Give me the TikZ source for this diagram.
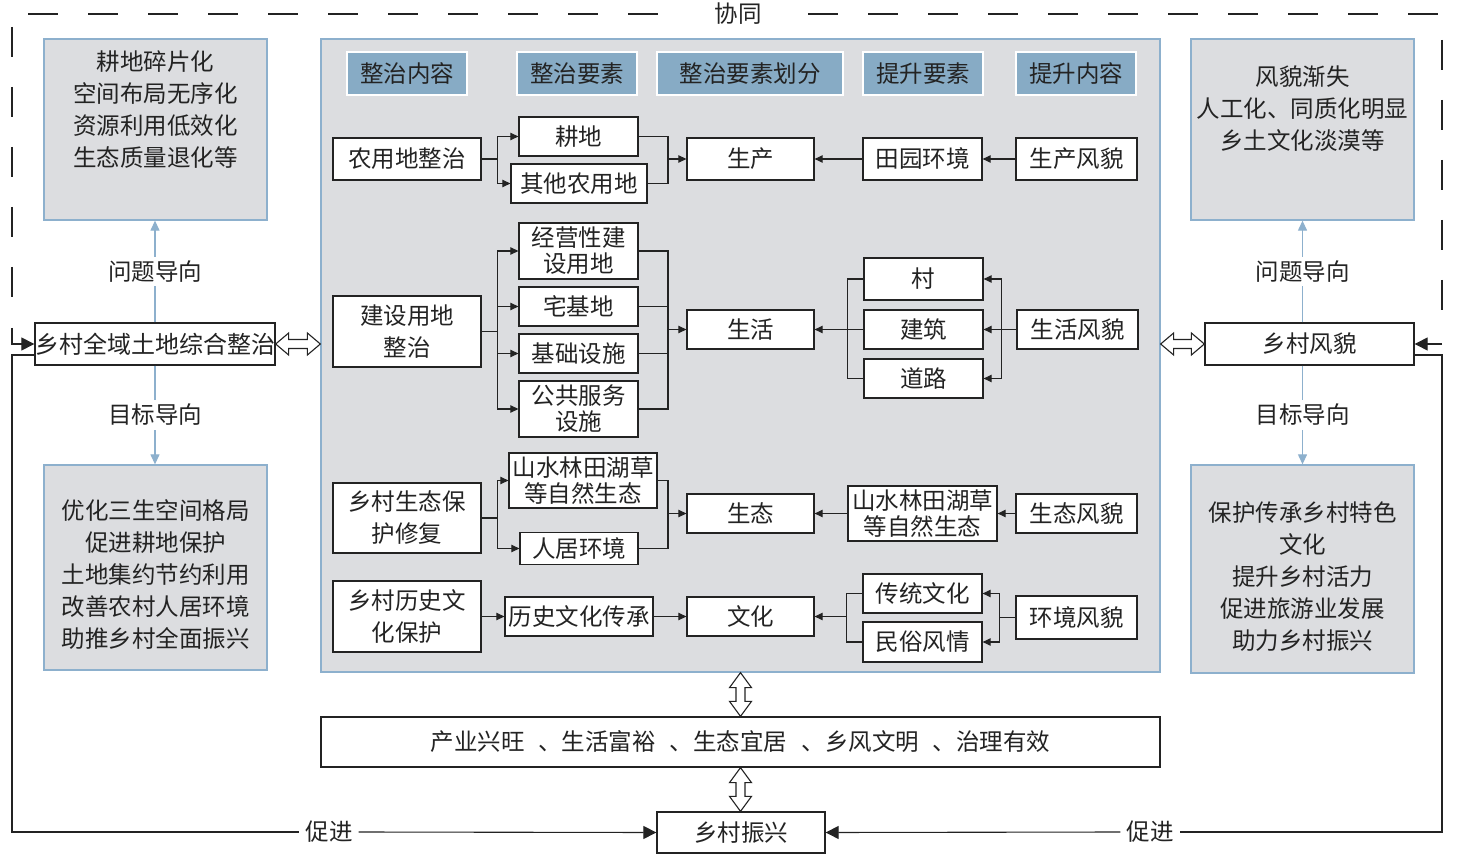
\documentclass[tikz,border=0pt]{standalone}
\usepackage{fontspec}
\setmainfont{Noto Sans CJK SC}
\usetikzlibrary{arrows.meta,calc}
\definecolor{panelgray}{RGB}{220,221,224}
\definecolor{panelblue}{RGB}{141,176,205}
\definecolor{headblue}{RGB}{135,171,197}
\definecolor{ink}{RGB}{35,35,35}
\tikzset{
 txt/.style={font=\fontsize{23.5}{32}\selectfont, text=ink, inner sep=0pt},
 box/.style={draw=ink, fill=white, line width=1.3pt, inner sep=0pt, align=center, font=\fontsize{23.5}{32}\selectfont, text=ink},
 tightlines/.style={font=\fontsize{23.5}{26}\selectfont},
 graybox/.style={draw=panelblue, fill=panelgray, line width=1.3pt, inner sep=0pt},
 headbox/.style={draw=white, fill=headblue, line width=1.6pt, inner sep=0pt, minimum width=120pt, minimum height=43pt, font=\fontsize{23.5}{28}\selectfont, text=ink},
 conn/.style={draw=ink, line width=1.1pt},
 arr/.style={conn, -{Triangle[length=8pt,width=7.5pt]}},
 bigarr/.style={conn, -{Triangle[length=13pt,width=13pt]}},
 bluearr/.style={draw=panelblue, line width=1.2pt, -{Triangle[length=10pt,width=9pt]}},
 dashthirty/.style={draw=ink, line width=1.1pt, dash pattern=on 30pt off 30pt},
 dblarrow/.style={draw=ink, fill=white, line width=1.1pt, line join=miter},
 lbl/.style={txt, fill=white, inner xsep=0pt, inner ysep=4pt},
}
\newcommand\hdblarrow[2]{\draw[dblarrow] let \p1=(#1), \p2=(#2) in (\x1,\y1) -- (\x1+13pt,\y1+11pt) -- (\x1+13pt,\y1+4.5pt) -- (\x2-13pt,\y1+4.5pt) -- (\x2-13pt,\y1+11pt) -- (\x2,\y1) -- (\x2-13pt,\y1-11pt) -- (\x2-13pt,\y1-4.5pt) -- (\x1+13pt,\y1-4.5pt) -- (\x1+13pt,\y1-11pt) -- cycle;}
\newcommand\vdblarrow[2]{\draw[dblarrow] let \p1=(#1), \p2=(#2) in (\x1,\y1) -- (\x1+11pt,\y1-15pt) -- (\x1+4.5pt,\y1-15pt) -- (\x1+4.5pt,\y2+15pt) -- (\x1+11pt,\y2+15pt) -- (\x1,\y2) -- (\x1-11pt,\y2+15pt) -- (\x1-4.5pt,\y2+15pt) -- (\x1-4.5pt,\y1-15pt) -- (\x1-11pt,\y1-15pt) -- cycle;}
\begin{document}
\begin{tikzpicture}[x=1pt,y=-1pt]
\useasboundingbox[fill=white] (0,0) rectangle (1461,858);

% ---------- left column ----------
\node[graybox, minimum width=223pt, minimum height=181pt] (ptop) at (155.5,129.5) {};
\node[txt, align=center] (ptopt) at (155.5,110) {耕地碎片化\\空间布局无序化\\资源利用低效化\\生态质量退化等};
\node[graybox, minimum width=223pt, minimum height=205pt] (pgoal) at (155.5,567.5) {};
\node[txt, align=center] (pgoalt) at (155.5,575) {优化三生空间格局\\促进耕地保护\\土地集约节约利用\\改善农村人居环境\\助推乡村全面振兴};
\node[box, minimum width=236pt, minimum height=42pt, font=\fontsize{24}{30}\selectfont] (land) at (155,344) {乡村全域土地综合整治};
\draw[bluearr] (land.north) -- node[lbl] {问题导向} (land.north |- ptop.south);
\draw[bluearr] (land.south) -- node[lbl] {目标导向} (land.south |- pgoal.north);

% ---------- right column ----------
\node[graybox, minimum width=223pt, minimum height=181pt] (rtop) at (1302.5,129.5) {};
\node[txt, align=center] (rtopt) at (1302.5,109) {风貌渐失\\人工化、同质化明显\\乡土文化淡漠等};
\node[graybox, minimum width=223pt, minimum height=208pt] (rgoal) at (1302.5,569) {};
\node[txt, align=center] (rgoalt) at (1302.5,577) {保护传承乡村特色\\文化\\提升乡村活力\\促进旅游业发展\\助力乡村振兴};
\node[box, minimum width=209pt, minimum height=42pt] (rfm) at (1309.5,344) {乡村风貌};
\draw[bluearr] (rfm.north -| rtop.south) -- node[lbl] {问题导向} (rtop.south);
\draw[bluearr] (rfm.south -| rgoal.north) -- node[lbl] {目标导向} (rgoal.north);

% ---------- central panel ----------
\node[graybox, minimum width=839pt, minimum height=633pt] (panel) at (740.5,355.5) {};
\node[headbox] (h1) at (407,73.5) {整治内容};
\node[headbox] (h2) at (577,73.5) {整治要素};
\node[headbox, minimum width=186pt] (h3) at (750,73.5) {整治要素划分};
\node[headbox] (h4) at (923,73.5) {提升要素};
\node[headbox] (h5) at (1076,73.5) {提升内容};

% row 1
\node[box, minimum width=148pt, minimum height=42pt] (nyd) at (407,159) {农用地整治};
\node[box, minimum width=119pt, minimum height=39pt] (gd) at (578.5,136.5) {耕地};
\node[box, minimum width=136pt, minimum height=39pt] (qt) at (579,183.5) {其他农用地};
\node[box, minimum width=127pt, minimum height=42pt] (sc) at (750.5,159) {生产};
\node[box, minimum width=119pt, minimum height=42pt] (tyhj) at (922.5,159) {田园环境};
\node[box, minimum width=121pt, minimum height=42pt] (scfm) at (1076.5,159) {生产风貌};
\draw[arr] (nyd.east) -- ++(16,0) |- (gd.west);
\draw[arr] (nyd.east) -- ++(16,0) |- (qt.west);
\coordinate (m1) at (668,159);
\draw[conn] (gd.east) -| (m1);
\draw[conn] (qt.east) -| (m1);
\draw[arr] (m1) -- (sc.west);
\draw[arr] (tyhj.west) -- (sc.east);
\draw[arr] (scfm.west) -- (tyhj.east);

% row 2
\node[box, minimum width=148pt, minimum height=71pt] (jsyd) at (407,331.5) {建设用地\\整治};
\node[box, tightlines, minimum width=119pt, minimum height=56pt] (jy) at (578.5,251) {经营性建\\设用地};
\node[box, minimum width=119pt, minimum height=39pt] (zjd) at (578.5,306.5) {宅基地};
\node[box, minimum width=119pt, minimum height=39pt] (jcss) at (578.5,353.5) {基础设施};
\node[box, tightlines, minimum width=119pt, minimum height=56pt] (ggfw) at (578.5,409) {公共服务\\设施};
\node[box, minimum width=127pt, minimum height=39pt] (sh) at (750.5,329.5) {生活};
\node[box, minimum width=119pt, minimum height=42pt] (cun) at (923.5,279) {村};
\node[box, minimum width=119pt, minimum height=39pt] (jz) at (923.5,329.5) {建筑};
\node[box, minimum width=119pt, minimum height=39pt] (dl) at (923.5,378.5) {道路};
\node[box, minimum width=121pt, minimum height=39pt] (shfm) at (1077.5,329.5) {生活风貌};
\draw[arr] (jsyd.east) -- ++(16,0) |- (jy.west);
\draw[arr] (jsyd.east) -- ++(16,0) |- (zjd.west);
\draw[arr] (jsyd.east) -- ++(16,0) |- (jcss.west);
\draw[arr] (jsyd.east) -- ++(16,0) |- (ggfw.west);
\coordinate (m2) at (668,329.5);
\draw[conn] (jy.east) -| (m2);
\draw[conn] (zjd.east) -| (m2);
\draw[conn] (jcss.east) -| (m2);
\draw[conn] (ggfw.east) -| (m2);
\draw[arr] (m2) -- (sh.west);
\draw[conn] (cun.west) -- ++(-16,0) |- (dl.west);
\draw[arr] (jz.west) -- (sh.east);
\draw[conn] (shfm.west) -- ++(-15,0) coordinate (b3);
\draw[arr] (b3) |- (cun.east);
\draw[arr] (b3) |- (dl.east);
\draw[arr] (shfm.west) -- (jz.east);

% row 3
\node[box, minimum width=148pt, minimum height=70pt] (stbh) at (407,518) {乡村生态保\\护修复};
\node[box, tightlines, minimum width=148pt, minimum height=55pt] (ssl) at (583,480.5) {山水林田湖草\\等自然生态};
\node[box, minimum width=118pt, minimum height=32pt] (rjhj) at (579,548.5) {人居环境};
\node[box, minimum width=127pt, minimum height=39pt] (st) at (750.5,513.5) {生态};
\node[box, tightlines, minimum width=149pt, minimum height=55pt] (ssr) at (922.5,513.5) {山水林田湖草\\等自然生态};
\node[box, minimum width=121pt, minimum height=39pt] (stfm) at (1076.5,513.5) {生态风貌};
\draw[arr] (stbh.east) -- ++(16,0) |- (ssl.west);
\draw[arr] (stbh.east) -- ++(16,0) |- (rjhj.west);
\coordinate (m4) at (668,513.5);
\draw[conn] (ssl.east) -| (m4);
\draw[conn] (rjhj.east) -| (m4);
\draw[arr] (m4) -- (st.west);
\draw[arr] (ssr.west) -- (st.east);
\draw[arr] (stfm.west) -- (ssr.east);

% row 4
\node[box, minimum width=148pt, minimum height=71pt] (lsbh) at (407,616.5) {乡村历史文\\化保护};
\node[box, minimum width=148pt, minimum height=39pt] (lscc) at (579,616.5) {历史文化传承};
\node[box, minimum width=127pt, minimum height=39pt] (wh) at (750.5,616.5) {文化};
\node[box, minimum width=119pt, minimum height=39pt] (ctwh) at (922.5,593.5) {传统文化};
\node[box, minimum width=119pt, minimum height=40pt] (msfq) at (922.5,642) {民俗风情};
\node[box, minimum width=121pt, minimum height=43pt] (hjfm) at (1076.5,617.5) {环境风貌};
\draw[arr] (lsbh.east) -- (lscc.west);
\draw[arr] (lscc.east) -- (wh.west);
\draw[conn] (ctwh.west) -- ++(-16,0) |- (msfq.west);
\coordinate (m5) at (847,616.5);
\draw[arr] (m5) -- (wh.east);
\draw[conn] (hjfm.west) -- ++(-16,0) coordinate (b5);
\draw[arr] (b5) |- (ctwh.east);
\draw[arr] (b5) |- (msfq.east);

% ---------- bottom ----------
\node[box, minimum width=839pt, minimum height=50pt] (goals) at (740.5,742) {产业兴旺\hspace{14pt}、生活富裕\hspace{14pt}、生态宜居\hspace{14pt}、乡风文明\hspace{14pt}、治理有效};
\node[box, minimum width=168pt, minimum height=41pt] (rv) at (741,832.5) {乡村振兴};
\node[txt, inner xsep=6pt] (cjL) at (329,832) {促进};
\node[txt, inner xsep=6pt] (cjR) at (1150,832) {促进};

\hdblarrow{land.east}{panel.west |- land.east}
\hdblarrow{panel.east |- rfm.west}{rfm.west}
\vdblarrow{panel.south}{goals.north}
\vdblarrow{goals.south}{rv.north}

\coordinate (LB) at (12,832);
\coordinate (RB) at (1442,832);
\draw[conn] ([yshift=-11pt]land.west) -| (LB) -- (cjL.west);
\draw[bigarr] (cjL.east) -- (rv.west);
\draw[conn] ([yshift=-11pt]rfm.east) -| (RB) -- (cjR.east);
\draw[bigarr] (cjR.west) -- (rv.east);

% ---------- collaboration (dashed) ----------
\coordinate (LD) at (12,328);
\draw[bigarr] (LD) |- (land.west);
\draw[dashthirty] (12,27) -- (12,298);
\draw[dashthirty] (28,14) -- (660,14);
\draw[dashthirty] (808,14) -- (1440,14);
\node[txt] (xt) at (738,14) {协同};
\draw[dashthirty] (1442,40) -- (1442,312);
\coordinate (RD) at (1442,344);
\draw[bigarr] (RD) -- (rfm.east);
\end{tikzpicture}
\end{document}
